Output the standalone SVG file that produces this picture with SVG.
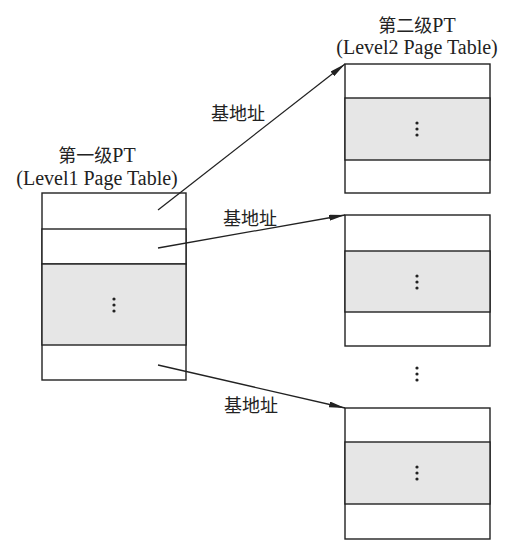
<svg xmlns="http://www.w3.org/2000/svg" width="516" height="552" viewBox="0 0 516 552">
<style>
.box{fill:#fff;stroke:#222;stroke-width:1.4}
.sh{fill:#e6e6e6;stroke:#222;stroke-width:1.4}
.t{font-family:"Liberation Serif","Noto Sans CJK SC",serif;font-size:20px;fill:#222;text-anchor:middle}
.c{font-size:18px}
.dot{fill:#222}
.con{stroke:#222;stroke-width:1.3;fill:none;marker-end:url(#ah)}
</style>
<defs>
<marker id="ah" viewBox="0 0 16 6" refX="16" refY="3" markerWidth="16" markerHeight="6" markerUnits="userSpaceOnUse" orient="auto">
<path d="M0,0 L16,3 L0,6 Z" fill="#222"/>
</marker>
<g id="vd"><circle cx="0" cy="-6" r="1.6" class="dot"/><circle cx="0" cy="0" r="1.6" class="dot"/><circle cx="0" cy="6" r="1.6" class="dot"/></g>
</defs>
<rect width="516" height="552" fill="#fff"/>

<g id="level1">
<text class="t" x="97" y="162"><tspan class="c">第一级</tspan>PT</text>
<text class="t" x="97" y="185">(Level1 Page Table)</text>
<rect class="box" x="42" y="193" width="144" height="187"/>
<rect class="box" x="42" y="229" width="144" height="35"/>
<rect class="sh" x="42" y="264" width="144" height="81"/>
<use href="#vd" x="114" y="305"/>
</g>

<g id="level2a">
<text class="t" x="417" y="32"><tspan class="c">第二级</tspan>PT</text>
<text class="t" x="417" y="54">(Level2 Page Table)</text>
<rect class="box" x="345" y="64" width="145" height="129"/>
<rect class="sh" x="345" y="98" width="145" height="62"/>
<use href="#vd" x="417" y="129"/>
</g>

<g id="level2b">
<rect class="box" x="345" y="215" width="145" height="131"/>
<rect class="sh" x="345" y="251" width="145" height="61"/>
<use href="#vd" x="417" y="282"/>
</g>

<g id="gap-dots">
<use href="#vd" x="417" y="374"/>
</g>

<g id="level2c">
<rect class="box" x="345" y="408" width="145" height="131"/>
<rect class="sh" x="345" y="442" width="145" height="62"/>
<use href="#vd" x="417" y="473"/>
</g>

<g id="connectors">
<line class="con" x1="158" y1="210" x2="345" y2="64"/>
<line class="con" x1="158" y1="248" x2="345" y2="215"/>
<line class="con" x1="158" y1="365" x2="345" y2="408"/>
<text class="t c" x="238" y="120">基地址</text>
<text class="t c" x="250" y="225">基地址</text>
<text class="t c" x="251" y="412">基地址</text>
</g>
</svg>
